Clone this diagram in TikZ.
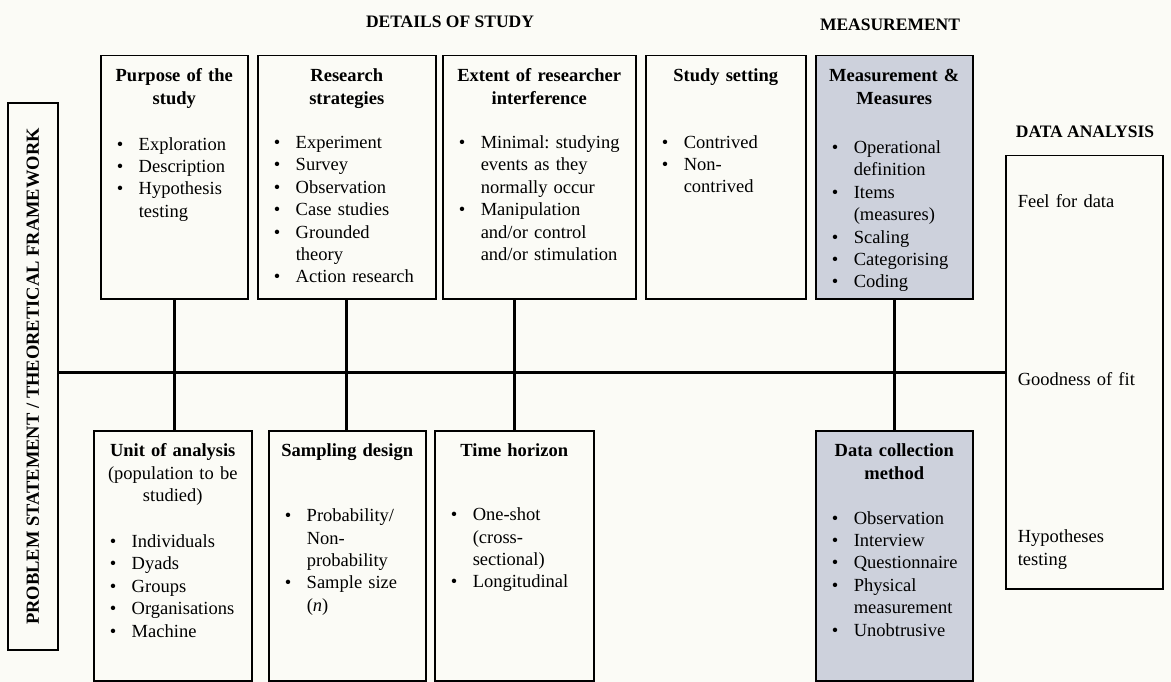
\documentclass[tikz,border=0pt]{standalone}
\usepackage{fontspec}
\setmainfont{Liberation Serif}
\usepackage{xcolor}
\usepackage{tikz}
\usetikzlibrary{positioning}
\definecolor{rdpaper}{HTML}{FBFBF6}
\definecolor{rdgray}{HTML}{CDD1DC}
\newcommand{\rdsize}{\fontsize{18.5pt}{22.4pt}\selectfont\frenchspacing}
\newcommand{\hd}[1]{{\centering\bfseries #1\par}}
\newcommand{\itm}[1]{\par\hangindent=28pt\hangafter=1\noindent\makebox[28pt][l]{\hspace{6pt}\textbullet}#1}

\begin{document}
\begin{tikzpicture}[
  x=1pt, y=-1pt,
  box/.style={rectangle, draw=black, line width=1.5pt, fill=rdpaper,
              anchor=north west, inner xsep=10pt, inner ysep=0pt,
              align=left, text height=26pt, font=\rdsize},
  shadebox/.style={box, fill=rdgray},
  head/.style={anchor=base, font=\fontsize{17.5pt}{21pt}\selectfont\bfseries},
  link/.style={line width=2.6pt, draw=black},
]
  \useasboundingbox[fill=rdpaper] (0,0) rectangle (1171,682);

  % headings
  \node[head] (details) at (450,28) {DETAILS OF STUDY};
  \node[head] (measurehd) at (890,31) {MEASUREMENT};
  \node[head] (analysishd) at (1085,138) {DATA ANALYSIS};

  % left frame
  \node[draw=black, line width=1.5pt, fill=rdpaper, rotate=90, inner sep=0pt,
        minimum width=547pt, minimum height=50pt, font=\rdsize\bfseries]
    (frame) at (33,376.5) {PROBLEM STATEMENT / THEORETICAL FRAMEWORK};

  % upper row
  \node[box, text width=127pt, text depth=217pt] (purpose) at (100,55)
    {\hd{Purpose of the\\ study}\vspace{23.6pt}%
     \itm{Exploration}\itm{Description}\itm{Hypothesis\newline testing}\par};
  \node[box, text width=158pt, text depth=217pt] (strategies) at (257,55)
    {\hd{Research\\ strategies}\vspace{22pt}%
     \itm{Experiment}\itm{Survey}\itm{Observation}\itm{Case studies}%
     \itm{Grounded\newline theory}\itm{Action research}\par};
  \node[box, text width=173pt, text depth=217pt] (extent) at (442,55)
    {\hd{Extent of researcher\\ interference}\vspace{22pt}%
     \itm{Minimal: studying\newline events as they\newline normally occur}%
     \itm{Manipulation\newline and/or control\newline and/or stimulation}\par};
  \node[box, text width=140pt, text depth=217pt] (setting) at (645,55)
    {\hd{Study setting}\vspace{44pt}%
     \itm{Contrived}\itm{Non-\newline contrived}\par};
  \node[shadebox, text width=137pt, text depth=217pt] (measure) at (815,55)
    {\hd{Measurement \&\\ Measures}\vspace{27pt}%
     \itm{Operational\newline definition}\itm{Items\newline (measures)}%
     \itm{Scaling}\itm{Categorising}\itm{Coding}\par};

  % lower row
  \node[box, text width=138pt, text depth=224pt] (unit) at (93,430)
    {{\centering\textbf{Unit of analysis}\\ (population to be\\ studied)\par}\vspace{23.6pt}%
     \itm{Individuals}\itm{Dyads}\itm{Groups}\itm{Organisations}\itm{Machine}\par};
  \node[box, text width=137pt, text depth=224pt] (sampling) at (268,430)
    {\hd{Sampling design}\vspace{42.6pt}%
     \itm{Probability/\newline Non-\newline probability}\itm{Sample size\newline (\textit{n})}\par};
  \node[box, text width=139pt, text depth=224pt] (timeh) at (434,430)
    {\hd{Time horizon}\vspace{41.6pt}%
     \itm{One-shot\newline (cross-\newline sectional)}\itm{Longitudinal}\par};
  \node[shadebox, text width=137pt, text depth=224pt] (collect) at (815,430)
    {\hd{Data collection\\ method}\vspace{22.6pt}%
     \itm{Observation}\itm{Interview}\itm{Questionnaire}%
     \itm{Physical\newline measurement}\itm{Unobtrusive}\par};

  % data analysis
  \node[box, inner xsep=12pt, text width=133pt, text height=52pt, text depth=381pt]
    (analysis) at (1005,155)
    {Feel for data\par\vspace{155.6pt}Goodness of fit\par\vspace{134.6pt}Hypotheses\\ testing};

  % connectors
  \draw[link] (frame.south |- analysis.west) -- (analysis.west);
  \draw[link] (purpose.south) -- (purpose.south |- unit.north);
  \draw[link] (strategies.south) -- (strategies.south |- sampling.north);
  \draw[link] (timeh.north) -- (timeh.north |- extent.south);
  \draw[link] (measure.south) -- (collect.north);
\end{tikzpicture}
\end{document}
